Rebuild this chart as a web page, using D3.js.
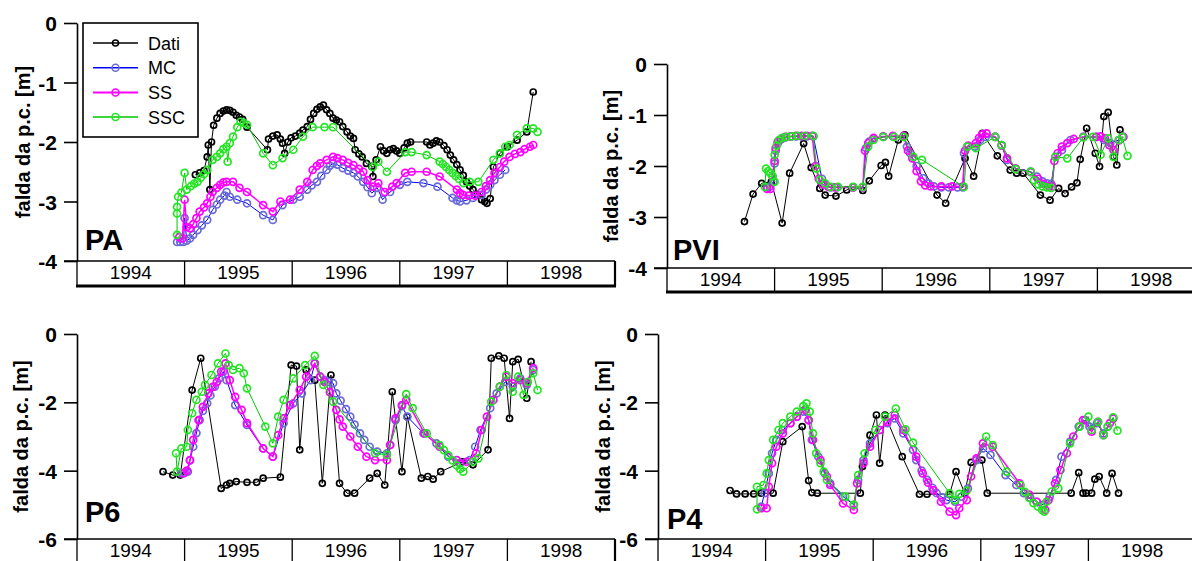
<!DOCTYPE html>
<html>
<head>
<meta charset="utf-8">
<script src="https://cdn.jsdelivr.net/npm/d3@7"></script>
<style>
  body { margin: 0; background: #fff; }
  svg { font-family: "Liberation Sans", Arial, sans-serif; }
</style>
</head>
<body>
<svg id="chart" width="1192" height="561"></svg>
<script>
// years shown in the band under each panel
var years = [1994, 1995, 1996, 1997, 1998];
var seriesNames = ["Dati", "MC", "SS", "SSC"];

// ---- PA ----  [decimal year, falda (m)]
var paDati = [[1995.10,-2.55],[1995.14,-2.52],[1995.18,-2.48],[1995.21,-2.25],[1995.22,-2.05],[1995.235,-2.8],[1995.25,-2.0],[1995.27,-1.72],[1995.30,-1.6],[1995.33,-1.52],[1995.36,-1.48],[1995.39,-1.46],[1995.42,-1.47],[1995.45,-1.5],[1995.48,-1.55],[1995.51,-1.58],[1995.54,-1.62],[1995.58,-1.75],[1995.77,-2.13],[1995.78,-1.95],[1995.82,-1.9],[1995.86,-1.88],[1995.89,-1.95],[1995.91,-2.02],[1995.93,-2.19],[1995.96,-2.0],[1995.99,-1.93],[1996.03,-1.9],[1996.07,-1.85],[1996.10,-1.8],[1996.14,-1.74],[1996.17,-1.62],[1996.20,-1.52],[1996.23,-1.45],[1996.26,-1.41],[1996.29,-1.38],[1996.32,-1.46],[1996.35,-1.52],[1996.38,-1.6],[1996.41,-1.63],[1996.44,-1.66],[1996.47,-1.74],[1996.51,-1.83],[1996.54,-1.9],[1996.57,-1.94],[1996.585,-2.13],[1996.62,-2.2],[1996.65,-2.25],[1996.69,-2.36],[1996.74,-2.41],[1996.75,-2.58],[1996.78,-2.3],[1996.82,-2.08],[1996.85,-2.15],[1996.88,-2.19],[1996.91,-2.13],[1996.94,-2.11],[1996.97,-2.15],[1997.00,-2.19],[1997.04,-2.1],[1997.07,-2.02],[1997.10,-2.0],[1997.25,-2.0],[1997.28,-2.05],[1997.31,-2.02],[1997.34,-1.98],[1997.37,-2.0],[1997.41,-2.06],[1997.44,-2.13],[1997.47,-2.22],[1997.50,-2.3],[1997.53,-2.38],[1997.56,-2.47],[1997.59,-2.56],[1997.62,-2.67],[1997.65,-2.74],[1997.68,-2.8],[1997.72,-2.88],[1997.76,-2.97],[1997.79,-3.0],[1997.81,-3.03],[1997.84,-2.95],[1997.87,-2.42],[1997.93,-2.19],[1998.00,-2.08],[1998.09,-1.97],[1998.18,-1.83],[1998.24,-1.16]];
var paMC = [[1994.93,-3.68],[1994.96,-3.68],[1994.99,-3.68],[1995.00,-3.28],[1995.02,-3.66],[1995.05,-3.62],[1995.08,-3.56],[1995.12,-3.48],[1995.16,-3.40],[1995.21,-3.31],[1995.26,-3.14],[1995.30,-3.05],[1995.33,-2.97],[1995.37,-2.9],[1995.39,-2.84],[1995.42,-2.92],[1995.49,-2.97],[1995.58,-3.03],[1995.73,-3.23],[1995.82,-3.31],[1995.91,-3.06],[1996.01,-2.97],[1996.07,-2.92],[1996.14,-2.8],[1996.18,-2.73],[1996.23,-2.67],[1996.27,-2.57],[1996.32,-2.47],[1996.35,-2.4],[1996.38,-2.36],[1996.42,-2.38],[1996.47,-2.44],[1996.52,-2.48],[1996.57,-2.52],[1996.61,-2.58],[1996.66,-2.67],[1996.70,-2.76],[1996.74,-2.86],[1996.79,-2.77],[1996.84,-2.97],[1996.91,-2.84],[1997.00,-2.72],[1997.07,-2.67],[1997.22,-2.69],[1997.35,-2.75],[1997.49,-2.94],[1997.53,-2.98],[1997.56,-3.0],[1997.62,-2.98],[1997.68,-2.94],[1997.76,-2.89],[1997.80,-2.8],[1997.84,-2.72],[1997.88,-2.64],[1997.93,-2.55],[1997.98,-2.47]];
var paSS = [[1994.95,-3.6],[1994.98,-3.62],[1995.00,-2.97],[1995.02,-3.43],[1995.05,-3.45],[1995.08,-3.38],[1995.11,-3.28],[1995.14,-3.17],[1995.18,-3.1],[1995.21,-3.03],[1995.24,-2.92],[1995.26,-2.84],[1995.30,-2.77],[1995.33,-2.72],[1995.36,-2.68],[1995.39,-2.67],[1995.45,-2.67],[1995.51,-2.77],[1995.58,-2.84],[1995.73,-3.06],[1995.82,-3.17],[1995.89,-3.0],[1995.98,-2.97],[1996.07,-2.8],[1996.14,-2.67],[1996.19,-2.47],[1996.23,-2.4],[1996.26,-2.36],[1996.32,-2.3],[1996.38,-2.25],[1996.42,-2.27],[1996.47,-2.3],[1996.52,-2.35],[1996.57,-2.39],[1996.62,-2.45],[1996.66,-2.5],[1996.70,-2.64],[1996.75,-2.75],[1996.80,-2.69],[1996.86,-2.84],[1996.93,-2.75],[1996.97,-2.69],[1997.05,-2.52],[1997.11,-2.5],[1997.25,-2.5],[1997.37,-2.58],[1997.53,-2.8],[1997.56,-2.86],[1997.59,-2.89],[1997.64,-2.9],[1997.70,-2.9],[1997.76,-2.84],[1997.80,-2.74],[1997.84,-2.64],[1997.88,-2.52],[1997.93,-2.42],[1997.97,-2.33],[1998.02,-2.25],[1998.07,-2.2],[1998.12,-2.17],[1998.16,-2.12],[1998.21,-2.08],[1998.24,-2.05]];
var paSSC = [[1994.93,-3.56],[1994.93,-3.2],[1994.93,-3.09],[1994.94,-2.92],[1994.97,-2.85],[1995.00,-2.52],[1995.02,-2.8],[1995.06,-2.74],[1995.09,-2.7],[1995.12,-2.67],[1995.15,-2.6],[1995.18,-2.54],[1995.21,-2.47],[1995.26,-2.3],[1995.30,-2.25],[1995.33,-2.19],[1995.36,-2.12],[1995.39,-2.08],[1995.40,-2.33],[1995.42,-2.02],[1995.45,-1.91],[1995.49,-1.75],[1995.52,-1.66],[1995.55,-1.68],[1995.58,-1.71],[1995.73,-2.19],[1995.82,-2.39],[1995.91,-2.27],[1996.01,-2.13],[1996.10,-1.91],[1996.19,-1.75],[1996.30,-1.75],[1996.38,-1.75],[1996.75,-2.42],[1996.80,-2.33],[1996.88,-2.5],[1997.05,-2.17],[1997.11,-2.17],[1997.25,-2.22],[1997.37,-2.33],[1997.40,-2.37],[1997.43,-2.42],[1997.46,-2.47],[1997.49,-2.52],[1997.52,-2.57],[1997.55,-2.62],[1997.59,-2.69],[1997.65,-2.67],[1997.73,-2.67],[1997.87,-2.3],[1997.93,-2.19],[1997.98,-2.08],[1998.02,-2.05],[1998.09,-1.88],[1998.18,-1.77],[1998.24,-1.77],[1998.28,-1.83]];

// ---- PVI ----
var pviDati = [[1994.72,-3.09],[1994.80,-2.55],[1994.88,-2.34],[1994.97,-2.31],[1995.07,-3.12],[1995.14,-2.14],[1995.27,-1.56],[1995.34,-2.03],[1995.42,-2.44],[1995.47,-2.57],[1995.57,-2.59],[1995.67,-2.47],[1995.73,-2.41],[1995.82,-2.48],[1995.88,-2.29],[1995.99,-1.99],[1996.03,-1.93],[1996.06,-2.2],[1996.15,-1.49],[1996.21,-1.39],[1996.51,-2.57],[1996.59,-2.73],[1996.77,-1.85],[1996.85,-2.2],[1996.93,-1.36],[1997.07,-1.80],[1997.19,-2.08],[1997.25,-2.14],[1997.31,-2.14],[1997.47,-2.57],[1997.56,-2.67],[1997.64,-2.44],[1997.70,-2.54],[1997.76,-2.41],[1997.81,-2.33],[1997.84,-1.87],[1997.90,-1.26],[1997.98,-1.75],[1998.02,-2.01],[1998.06,-1.03],[1998.10,-0.95],[1998.15,-1.82],[1998.18,-1.98],[1998.21,-1.29]];
var pviMC = [[1994.93,-2.42],[1994.96,-2.4],[1994.99,-2.3],[1995.00,-1.95],[1995.01,-1.7],[1995.03,-1.55],[1995.06,-1.48],[1995.10,-1.44],[1995.15,-1.42],[1995.20,-1.42],[1995.25,-1.42],[1995.30,-1.42],[1995.36,-1.42],[1995.44,-2.25],[1995.47,-2.36],[1995.52,-2.42],[1995.58,-2.42],[1995.73,-2.42],[1995.82,-2.42],[1995.85,-1.65],[1995.88,-1.52],[1995.92,-1.46],[1996.01,-1.43],[1996.10,-1.42],[1996.20,-1.42],[1996.23,-1.62],[1996.26,-1.75],[1996.32,-2.0],[1996.38,-2.24],[1996.43,-2.34],[1996.48,-2.4],[1996.55,-2.42],[1996.62,-2.42],[1996.70,-2.42],[1996.75,-2.42],[1996.76,-1.75],[1996.79,-1.62],[1996.86,-1.62],[1996.91,-1.49],[1996.96,-1.43],[1997.05,-1.43],[1997.11,-1.59],[1997.16,-1.88],[1997.24,-2.05],[1997.38,-2.11],[1997.44,-2.21],[1997.49,-2.3],[1997.53,-2.34],[1997.57,-2.35],[1997.61,-1.82],[1997.67,-1.69],[1997.75,-1.49],[1997.87,-1.43],[1997.99,-1.43],[1998.06,-1.49],[1998.12,-1.55],[1998.20,-1.49],[1998.24,-1.43]];
var pviSS = [[1994.93,-2.45],[1994.96,-2.45],[1994.98,-2.2],[1995.00,-1.9],[1995.01,-1.65],[1995.03,-1.52],[1995.06,-1.47],[1995.10,-1.43],[1995.15,-1.42],[1995.20,-1.41],[1995.25,-1.41],[1995.30,-1.41],[1995.35,-1.41],[1995.38,-2.0],[1995.41,-2.25],[1995.45,-2.36],[1995.50,-2.41],[1995.56,-2.42],[1995.73,-2.42],[1995.82,-2.42],[1995.84,-1.7],[1995.87,-1.55],[1995.92,-1.45],[1996.01,-1.42],[1996.10,-1.41],[1996.20,-1.41],[1996.24,-1.7],[1996.28,-1.85],[1996.32,-2.1],[1996.36,-2.3],[1996.40,-2.38],[1996.45,-2.4],[1996.55,-2.4],[1996.65,-2.4],[1996.75,-2.4],[1996.77,-1.7],[1996.80,-1.6],[1996.87,-1.55],[1996.90,-1.45],[1996.93,-1.38],[1996.97,-1.36],[1997.05,-1.43],[1997.11,-1.6],[1997.16,-1.85],[1997.24,-2.05],[1997.38,-2.12],[1997.45,-2.25],[1997.50,-2.35],[1997.55,-2.4],[1997.58,-2.4],[1997.60,-1.9],[1997.63,-1.75],[1997.67,-1.62],[1997.72,-1.55],[1997.78,-1.47],[1997.87,-1.43],[1997.99,-1.43],[1998.03,-1.42],[1998.07,-1.46],[1998.11,-1.59],[1998.15,-1.69],[1998.20,-1.5],[1998.24,-1.43]];
var pviSSC = [[1994.91,-2.41],[1994.92,-2.05],[1994.94,-2.1],[1994.96,-2.14],[1994.98,-2.2],[1995.00,-2.31],[1995.00,-1.78],[1995.02,-1.6],[1995.04,-1.49],[1995.07,-1.45],[1995.11,-1.43],[1995.16,-1.42],[1995.21,-1.41],[1995.28,-1.41],[1995.36,-1.41],[1995.39,-2.05],[1995.42,-2.27],[1995.47,-2.34],[1995.52,-2.41],[1995.59,-2.41],[1995.73,-2.41],[1995.82,-2.41],[1995.87,-1.62],[1995.92,-1.49],[1996.01,-1.43],[1996.11,-1.43],[1996.20,-1.43],[1996.29,-1.82],[1996.37,-1.88],[1996.76,-2.41],[1996.79,-1.62],[1996.87,-1.65],[1997.05,-1.43],[1997.11,-1.59],[1997.24,-2.06],[1997.38,-2.11],[1997.41,-2.28],[1997.45,-2.36],[1997.49,-2.4],[1997.53,-2.42],[1997.57,-2.43],[1997.61,-1.82],[1997.72,-1.85],[1997.87,-1.44],[1997.96,-1.43],[1998.03,-1.78],[1998.10,-1.46],[1998.15,-1.82],[1998.20,-1.49],[1998.23,-1.43],[1998.28,-1.8]];

// ---- P6 ----
var p6Dati = [[1994.80,-4.03],[1994.89,-4.13],[1994.96,-4.13],[1995.07,-1.64],[1995.15,-0.71],[1995.34,-4.52],[1995.39,-4.42],[1995.42,-4.37],[1995.48,-4.32],[1995.58,-4.34],[1995.67,-4.34],[1995.73,-4.22],[1995.89,-4.19],[1995.99,-0.91],[1996.04,-0.94],[1996.07,-3.39],[1996.13,-1.05],[1996.21,-1.35],[1996.28,-4.37],[1996.36,-1.2],[1996.44,-4.37],[1996.51,-4.66],[1996.58,-4.66],[1996.72,-4.22],[1996.79,-4.08],[1996.86,-4.42],[1996.93,-1.69],[1997.02,-4.03],[1997.07,-2.42],[1997.20,-4.22],[1997.26,-4.17],[1997.31,-4.25],[1997.38,-4.03],[1997.58,-3.74],[1997.68,-3.83],[1997.82,-3.39],[1997.85,-0.71],[1997.92,-0.64],[1997.97,-0.71],[1998.02,-2.47],[1998.05,-0.81],[1998.10,-0.74],[1998.18,-1.88],[1998.22,-0.81]];
var p6MC = [[1994.97,-4.08],[1995.00,-4.06],[1995.03,-4.03],[1995.05,-3.7],[1995.08,-3.30],[1995.11,-2.9],[1995.14,-2.52],[1995.17,-2.25],[1995.21,-2.03],[1995.24,-1.8],[1995.28,-1.54],[1995.32,-1.3],[1995.36,-1.10],[1995.39,-1.35],[1995.47,-2.08],[1995.58,-2.66],[1995.73,-3.35],[1995.82,-3.59],[1995.92,-2.61],[1996.01,-2.03],[1996.09,-1.74],[1996.17,-1.35],[1996.21,-0.86],[1996.26,-1.25],[1996.30,-1.35],[1996.34,-1.4],[1996.38,-1.44],[1996.41,-1.74],[1996.45,-1.95],[1996.50,-2.2],[1996.54,-2.42],[1996.58,-2.65],[1996.63,-2.91],[1996.67,-3.1],[1996.72,-3.30],[1996.79,-3.44],[1996.88,-3.49],[1996.91,-3.25],[1996.96,-2.52],[1997.02,-2.11],[1997.07,-2.42],[1997.22,-2.91],[1997.34,-3.20],[1997.45,-3.59],[1997.56,-3.78],[1997.65,-3.69],[1997.70,-3.30],[1997.75,-2.81],[1997.84,-2.17],[1997.90,-1.74],[1997.98,-1.40],[1998.05,-1.54],[1998.12,-1.30],[1998.18,-1.49],[1998.24,-1.05]];
var p6SS = [[1994.99,-4.08],[1995.02,-4.0],[1995.05,-3.69],[1995.08,-3.10],[1995.13,-2.52],[1995.17,-2.13],[1995.22,-1.74],[1995.26,-1.55],[1995.30,-1.40],[1995.34,-1.1],[1995.38,-0.86],[1995.42,-1.35],[1995.47,-1.84],[1995.53,-2.22],[1995.58,-2.61],[1995.73,-3.35],[1995.82,-3.59],[1995.87,-2.96],[1995.92,-2.47],[1995.98,-2.08],[1996.07,-1.64],[1996.13,-1.25],[1996.21,-0.86],[1996.26,-1.25],[1996.30,-1.4],[1996.35,-1.7],[1996.41,-2.22],[1996.44,-2.5],[1996.47,-2.71],[1996.54,-3.0],[1996.61,-3.30],[1996.69,-3.59],[1996.77,-3.69],[1996.88,-3.69],[1996.91,-3.25],[1996.96,-2.47],[1997.02,-2.08],[1997.06,-1.93],[1997.23,-2.91],[1997.37,-3.30],[1997.53,-3.69],[1997.62,-3.74],[1997.71,-3.49],[1997.76,-2.81],[1997.81,-2.42],[1997.87,-1.93],[1997.93,-1.54],[1997.99,-1.25],[1998.05,-1.44],[1998.12,-1.35],[1998.18,-1.44],[1998.24,-1.0]];
var p6SSC = [[1994.92,-3.49],[1994.93,-4.03],[1994.97,-3.35],[1995.02,-3.30],[1995.03,-2.81],[1995.07,-2.32],[1995.11,-1.93],[1995.16,-1.69],[1995.19,-1.49],[1995.25,-1.20],[1995.31,-0.86],[1995.38,-0.57],[1995.41,-0.91],[1995.45,-1.05],[1995.51,-1.0],[1995.55,-1.15],[1995.58,-1.59],[1995.75,-2.71],[1995.82,-3.20],[1995.87,-2.42],[1995.92,-1.93],[1996.01,-1.30],[1996.12,-0.91],[1996.21,-0.64],[1996.29,-1.49],[1996.38,-1.98],[1996.77,-3.49],[1996.88,-3.54],[1997.06,-1.76],[1997.12,-2.17],[1997.25,-2.91],[1997.37,-3.25],[1997.41,-3.4],[1997.45,-3.55],[1997.49,-3.7],[1997.53,-3.85],[1997.56,-3.95],[1997.59,-4.03],[1997.68,-3.74],[1997.73,-3.64],[1997.85,-1.98],[1997.93,-1.54],[1997.99,-1.20],[1998.05,-1.69],[1998.10,-1.25],[1998.15,-1.78],[1998.19,-1.40],[1998.24,-1.15],[1998.28,-1.64]];

// ---- P4 ----
var p4Dati = [[1994.67,-4.58],[1994.73,-4.68],[1994.81,-4.68],[1994.89,-4.68],[1994.96,-4.66],[1995.07,-4.66],[1995.16,-3.15],[1995.34,-2.71],[1995.40,-4.29],[1995.43,-4.64],[1995.48,-4.66],[1995.88,-4.66],[1995.90,-3.88],[1995.97,-2.96],[1996.03,-2.37],[1996.06,-3.78],[1996.11,-2.37],[1996.27,-3.59],[1996.43,-4.69],[1996.50,-4.69],[1996.71,-4.69],[1996.77,-4.03],[1996.85,-4.66],[1996.91,-3.76],[1997.01,-3.69],[1997.06,-4.66],[1997.84,-4.66],[1997.91,-4.06],[1997.95,-4.66],[1997.98,-4.66],[1998.03,-4.66],[1998.06,-4.25],[1998.10,-4.17],[1998.17,-4.66],[1998.22,-4.08],[1998.28,-4.66]];
var p4MC = [[1994.96,-5.05],[1994.99,-4.66],[1995.03,-4.08],[1995.06,-3.49],[1995.10,-3.10],[1995.16,-2.81],[1995.23,-2.61],[1995.29,-2.42],[1995.35,-2.27],[1995.40,-2.52],[1995.43,-3.10],[1995.49,-3.59],[1995.55,-4.08],[1995.60,-4.37],[1995.72,-4.76],[1995.82,-5.0],[1995.86,-4.27],[1995.91,-3.69],[1995.97,-3.20],[1996.06,-2.81],[1996.13,-2.61],[1996.20,-2.47],[1996.28,-2.91],[1996.37,-3.39],[1996.40,-3.69],[1996.45,-4.0],[1996.50,-4.27],[1996.55,-4.5],[1996.59,-4.66],[1996.64,-4.78],[1996.68,-4.86],[1996.76,-4.91],[1996.82,-4.76],[1996.88,-4.52],[1996.96,-3.69],[1997.02,-3.35],[1997.09,-3.54],[1997.23,-4.13],[1997.33,-4.42],[1997.40,-4.66],[1997.46,-4.8],[1997.52,-4.91],[1997.58,-5.0],[1997.64,-4.76],[1997.70,-4.27],[1997.75,-3.59],[1997.83,-3.15],[1997.91,-2.71],[1997.97,-2.52],[1998.01,-2.71],[1998.08,-2.61],[1998.14,-2.91],[1998.18,-2.71],[1998.23,-2.47]];
var p4SS = [[1994.96,-5.1],[1995.01,-5.1],[1995.03,-4.47],[1995.06,-3.78],[1995.10,-3.30],[1995.16,-2.91],[1995.23,-2.61],[1995.29,-2.42],[1995.37,-2.22],[1995.40,-2.52],[1995.44,-3.1],[1995.51,-3.69],[1995.57,-4.17],[1995.60,-4.42],[1995.72,-4.96],[1995.82,-5.15],[1995.85,-4.37],[1995.91,-3.78],[1995.97,-3.30],[1996.06,-2.81],[1996.13,-2.57],[1996.20,-2.37],[1996.28,-2.81],[1996.40,-3.59],[1996.46,-4.08],[1996.51,-4.35],[1996.56,-4.57],[1996.63,-4.91],[1996.71,-5.2],[1996.77,-5.3],[1996.80,-5.1],[1996.87,-4.86],[1996.91,-4.17],[1996.96,-3.64],[1997.02,-3.20],[1997.11,-3.30],[1997.36,-4.37],[1997.45,-4.7],[1997.52,-4.91],[1997.60,-5.15],[1997.63,-4.86],[1997.69,-4.37],[1997.74,-3.98],[1997.80,-3.49],[1997.86,-3.0],[1997.95,-2.52],[1998.03,-2.86],[1998.09,-2.57],[1998.14,-2.96],[1998.20,-2.61],[1998.23,-2.47]];
var p4SSC = [[1994.92,-5.13],[1994.92,-4.47],[1994.98,-4.42],[1995.01,-4.08],[1995.03,-3.69],[1995.07,-3.10],[1995.12,-2.81],[1995.16,-2.61],[1995.23,-2.42],[1995.29,-2.27],[1995.35,-2.11],[1995.38,-2.03],[1995.41,-2.27],[1995.44,-2.91],[1995.47,-3.49],[1995.51,-3.78],[1995.54,-4.03],[1995.57,-4.27],[1995.74,-4.76],[1995.82,-5.0],[1995.86,-4.13],[1995.92,-3.49],[1996.02,-2.81],[1996.11,-2.42],[1996.21,-2.18],[1996.30,-2.79],[1996.37,-3.18],[1996.71,-4.66],[1996.76,-4.86],[1996.80,-4.68],[1996.87,-4.58],[1997.05,-3.0],[1997.11,-3.25],[1997.24,-4.03],[1997.37,-4.42],[1997.41,-4.62],[1997.45,-4.8],[1997.49,-4.95],[1997.53,-5.05],[1997.57,-5.15],[1997.59,-5.2],[1997.61,-4.91],[1997.66,-4.61],[1997.72,-4.52],[1997.83,-3.20],[1997.92,-2.71],[1998.00,-2.42],[1998.03,-2.81],[1998.09,-2.57],[1998.14,-2.96],[1998.18,-2.71],[1998.23,-2.44],[1998.27,-2.83]];

var paTicks = [0, -1, -2, -3, -4];
var p6Ticks = [0, -2, -4, -6];

// line colour, line width, marker colour, marker radius
var styles = [
  {line: "#000000", lw: 1,   mk: "#000000", r: 3},
  {line: "#0000ff", lw: 1,   mk: "#6b6bd6", r: 3.5},
  {line: "#ff00ff", lw: 1.5, mk: "#ff00ff", r: 3.5},
  {line: "#00c800", lw: 1,   mk: "#22e622", r: 3.5}
];

var panels = [
  {name: "PA",  data: [paDati, paMC, paSS, paSSC],     ticks: paTicks, yMin: -4, left: 77,  top: 23,  bottom: 261, boxH: 25, titleX: 30,  labX: 85,  labY: 250, legend: true},
  {name: "PVI", data: [pviDati, pviMC, pviSS, pviSSC], ticks: paTicks, yMin: -4, left: 667, top: 64,  bottom: 268, boxH: 24, titleX: 618, labX: 673, labY: 260},
  {name: "P6",  data: [p6Dati, p6MC, p6SS, p6SSC],     ticks: p6Ticks, yMin: -6, left: 77,  top: 334, bottom: 539, boxH: 25, titleX: 28,  labX: 85,  labY: 522},
  {name: "P4",  data: [p4Dati, p4MC, p4SS, p4SSC],     ticks: p6Ticks, yMin: -6, left: 658, top: 334, bottom: 539, boxH: 25, titleX: 610, labX: 667, labY: 529}
];
var yearW = 107.6;

var svg = d3.select("#chart");

panels.forEach(function(p) {
  var g = svg.append("g");
  var x = d3.scaleLinear().domain([1994, 1999]).range([p.left, p.left + 5 * yearW]);
  var y = d3.scaleLinear().domain([p.yMin, 0]).range([p.bottom, p.top]);

  // y axis
  var ax = g.append("g")
    .attr("transform", "translate(" + p.left + ",0)")
    .call(d3.axisLeft(y).tickValues(p.ticks).tickSize(13).tickSizeOuter(0).tickFormat(function(d) { return String(d); }));
  ax.selectAll("path, line").attr("stroke", "#000").attr("stroke-width", 1.6);
  ax.selectAll("text")
    .attr("x", -20).attr("dy", "0.36em")
    .attr("text-anchor", "end")
    .style("font-size", "21px").style("font-weight", "bold").attr("fill", "#000");

  // axis title
  g.append("text")
    .attr("transform", "translate(" + p.titleX + "," + ((p.top + p.bottom) / 2) + ") rotate(-90)")
    .attr("text-anchor", "middle")
    .style("font-size", "20px").style("font-weight", "bold")
    .text("falda da p.c. [m]");

  // year band
  var band = g.append("g");
  band.append("line")
    .attr("x1", x(1994) - 13).attr("x2", x(1999))
    .attr("y1", p.bottom).attr("y2", p.bottom)
    .attr("stroke", "#000").attr("stroke-width", 1.6);
  band.selectAll(".sep").data(years.concat([1999])).enter().append("line")
    .attr("x1", function(d) { return x(d); }).attr("x2", function(d) { return x(d); })
    .attr("y1", p.bottom).attr("y2", p.bottom + p.boxH)
    .attr("stroke", "#000")
    .attr("stroke-width", function(d) { return d === 1999 ? 2.2 : 1.3; });
  band.append("line")
    .attr("x1", x(1994) - 1).attr("x2", x(1999) + 1)
    .attr("y1", p.bottom + p.boxH).attr("y2", p.bottom + p.boxH)
    .attr("stroke", "#000").attr("stroke-width", 3);
  band.selectAll(".yr").data(years).enter().append("text")
    .attr("x", function(d) { return x(d + 0.5); })
    .attr("y", p.bottom + p.boxH / 2 + 5.5)
    .attr("text-anchor", "middle")
    .style("font-size", "19px")
    .text(function(d) { return d; });

  // series
  var line = d3.line().x(function(d) { return x(d[0]); }).y(function(d) { return y(d[1]); });
  p.data.forEach(function(s, i) {
    var st = styles[i];
    g.append("path").datum(s)
      .attr("d", line)
      .attr("fill", "none").attr("stroke", st.line).attr("stroke-width", st.lw);
    g.append("g").selectAll("circle").data(s).enter().append("circle")
      .attr("cx", function(d) { return x(d[0]); })
      .attr("cy", function(d) { return y(d[1]); })
      .attr("r", st.r)
      .attr("fill", "none").attr("stroke", st.mk).attr("stroke-width", 1.7);
  });

  // panel label
  g.append("text")
    .attr("x", p.labX).attr("y", p.labY)
    .style("font-size", "29px").style("font-weight", "bold")
    .text(p.name);

  if (p.legend) {
    var lg = g.append("g");
    lg.append("rect")
      .attr("x", 83).attr("y", 23).attr("width", 115).attr("height", 114)
      .attr("fill", "#fff").attr("stroke", "#000").attr("stroke-width", 1.6);
    seriesNames.forEach(function(n, i) {
      var st = styles[i], ly = 43 + i * 24.7;
      lg.append("line").attr("x1", 93).attr("x2", 138).attr("y1", ly).attr("y2", ly)
        .attr("stroke", st.line).attr("stroke-width", st.lw + 0.5);
      lg.append("circle").attr("cx", 115.5).attr("cy", ly).attr("r", st.r)
        .attr("fill", "none").attr("stroke", st.mk).attr("stroke-width", 1.5);
      lg.append("text").attr("x", 148).attr("y", ly + 6.5)
        .style("font-size", "18px").text(n);
    });
  }
});
</script>
</body>
</html>
